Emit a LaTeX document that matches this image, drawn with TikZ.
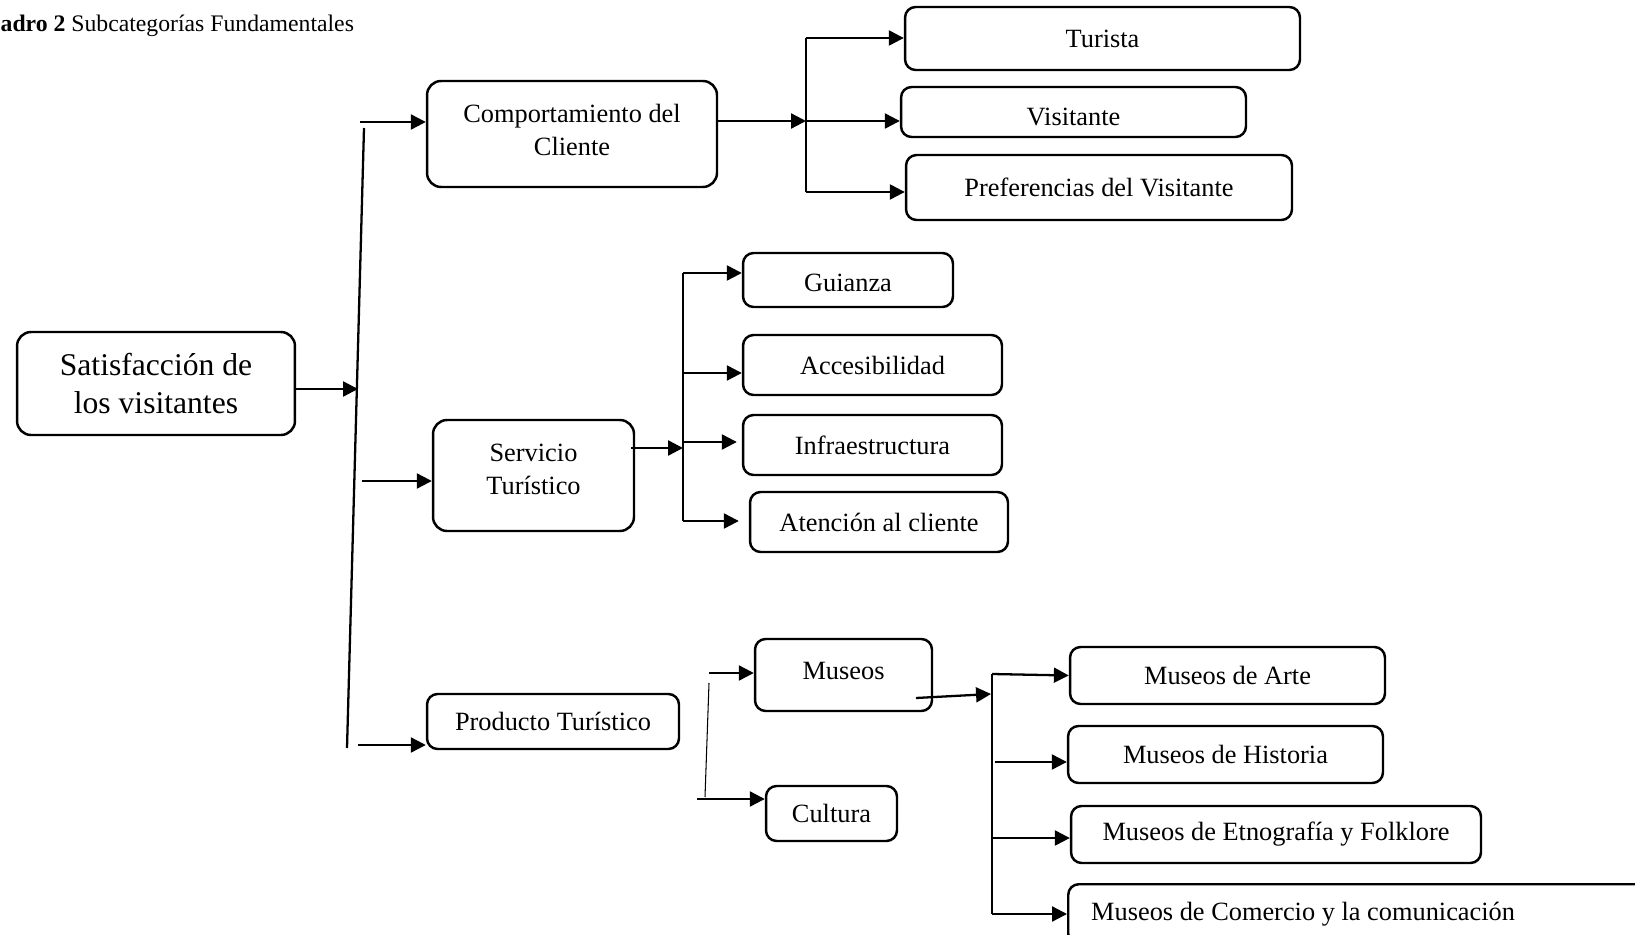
\documentclass[tikz,border=0pt]{standalone}
\usepackage{fontspec}
\setmainfont{Liberation Serif}
\usetikzlibrary{arrows.meta}

\begin{document}
\begin{tikzpicture}[x=0.02cm, y=-0.02cm,
  box/.style={draw, line width=1.4pt, rounded corners=6pt, inner sep=0pt,
              align=center, font=\fontsize{15}{18.8}\selectfont},
  bigbox/.style={box, rounded corners=8pt},
  arr/.style={-{Triangle[length=8.5pt,width=8.5pt]}, line width=1.3pt},
  ln/.style={line width=1.3pt},
  thin/.style={line width=0.6pt}]
\useasboundingbox (0,0) rectangle (1635,935);

% caption
\node[anchor=base west, inner sep=0pt, font=\fontsize{13.5}{16}\selectfont]
  (title) at (-30,32) {\textbf{Cuadro 2} Subcategorías Fundamentales};

% root
\node[bigbox, minimum width=5.56cm, minimum height=2.06cm,
      font=\fontsize{18}{21.6}\selectfont] (sat) at (156,383.5)
  {Satisfacción de\\los visitantes};

% first level
\node[bigbox, minimum width=5.8cm, minimum height=2.12cm, text depth=4.5pt] (comp) at (572,134)
  {Comportamiento del\\Cliente};
\node[bigbox, minimum width=4.02cm, minimum height=2.22cm, text depth=6.8pt,
      font=\fontsize{15}{19}\selectfont] (serv) at (533.5,475.5)
  {Servicio\\Turístico};
\node[box, minimum width=5.04cm, minimum height=1.1cm] (prod) at (553,721.5)
  {Producto Turístico};

% comportamiento del cliente
\node[box, minimum width=7.9cm, minimum height=1.26cm] (turista) at (1102.5,38.5) {Turista};
\node[box, minimum width=6.9cm, minimum height=1.0cm, text height=15.5pt, text depth=0pt] (visit) at (1073.5,112) {Visitante};
\node[box, minimum width=7.72cm, minimum height=1.3cm] (pref) at (1099,187.5) {Preferencias del Visitante};

% servicio turistico
\node[box, minimum width=4.2cm, minimum height=1.08cm, text height=13pt, text depth=0pt] (guia) at (848,280) {Guianza};
\node[box, minimum width=5.18cm, minimum height=1.2cm] (acces) at (872.5,365) {Accesibilidad};
\node[box, minimum width=5.18cm, minimum height=1.2cm] (infra) at (872.5,445) {Infraestructura};
\node[box, minimum width=5.16cm, minimum height=1.2cm] (atenc) at (879,522) {Atención al cliente};

% producto turistico
\node[box, minimum width=3.54cm, minimum height=1.44cm, text depth=4.5pt] (museos) at (843.5,675) {Museos};
\node[box, minimum width=2.62cm, minimum height=1.1cm] (cultura) at (831.5,813.5) {Cultura};

% museos
\node[box, minimum width=6.3cm, minimum height=1.14cm] (arte) at (1227.5,675.5) {Museos de Arte};
\node[box, minimum width=6.3cm, minimum height=1.14cm] (hist) at (1225.5,754.5) {Museos de Historia};
\node[box, minimum width=8.2cm, minimum height=1.14cm] (etno) at (1276,834.5) {Museos de Etnografía y Folklore};
\node[box, anchor=north west, inner xsep=0.46cm, minimum height=1.2cm] (comer) at (1067,883)
  {\makebox[11.48cm][l]{Museos de Comercio y la comunicación}};

% main trunk
\coordinate (T1) at (364,128);
\coordinate (T2) at (347,748);
\coordinate (sJ) at (358,389);
\coordinate (cS) at (360,122);
\coordinate (vS) at (362,481);
\coordinate (pS) at (358,745);
\draw[ln] (T1) -- (T2);
\draw[arr] (sat.east |- sJ) -- (sJ);
\draw[arr] (cS) -- (comp.west |- cS);
\draw[arr] (vS) -- (serv.west |- vS);
\draw[arr] (pS) -- (prod.west |- pS);

% branch of comportamiento del cliente
\coordinate (B1a) at (806,38);
\coordinate (B1m) at (806,121);
\coordinate (B1b) at (806,192);
\draw[ln] (B1a) -- (B1b);
\draw[arr] (comp.east |- B1m) -- (B1m);
\draw[arr] (B1a) -- (turista.west |- B1a);
\draw[arr] (B1m) -- (visit.west |- B1m);
\draw[arr] (B1b) -- (pref.west |- B1b);

% branch of servicio turistico
\coordinate (B2a) at (683,273);
\coordinate (B2c) at (683,373);
\coordinate (B2i) at (683,442);
\coordinate (B2m) at (683,448);
\coordinate (B2b) at (683,521);
\draw[ln] (B2a) -- (B2b);
\draw[arr] ([xshift=-4*0.02cm]serv.east |- B2m) -- (B2m);
\draw[arr] (B2a) -- (guia.west |- B2a);
\draw[arr] (B2c) -- (acces.west |- B2c);
\draw[arr, shorten >=0.1cm] (B2i) -- (infra.west |- B2i);
\draw[arr, shorten >=0.2cm] (B2b) -- (atenc.west |- B2b);

% branch of producto turistico
\coordinate (P1) at (709,683);
\coordinate (P2) at (705,797);
\coordinate (M0) at (709,673);
\coordinate (C0) at (697,799);
\draw[thin] (P1) -- (P2);
\draw[arr] (M0) -- (museos.west |- M0);
\draw[arr] (C0) -- (cultura.west |- C0);

% branch of museos
\coordinate (M1) at (916,698);
\coordinate (B3m) at (991,694);
\coordinate (B3a) at (992,674);
\coordinate (H0) at (995,762);
\coordinate (E0) at (992,838);
\coordinate (B3b) at (992,914);
\draw[ln] (B3a) -- (B3b);
\draw[arr] (M1) -- (B3m);
\draw[arr] (B3a) -- (arte.west);
\draw[arr] (H0) -- (hist.west |- H0);
\draw[arr] (E0) -- (etno.west |- E0);
\draw[arr] (B3b) -- (comer.west |- B3b);
\end{tikzpicture}
\end{document}
